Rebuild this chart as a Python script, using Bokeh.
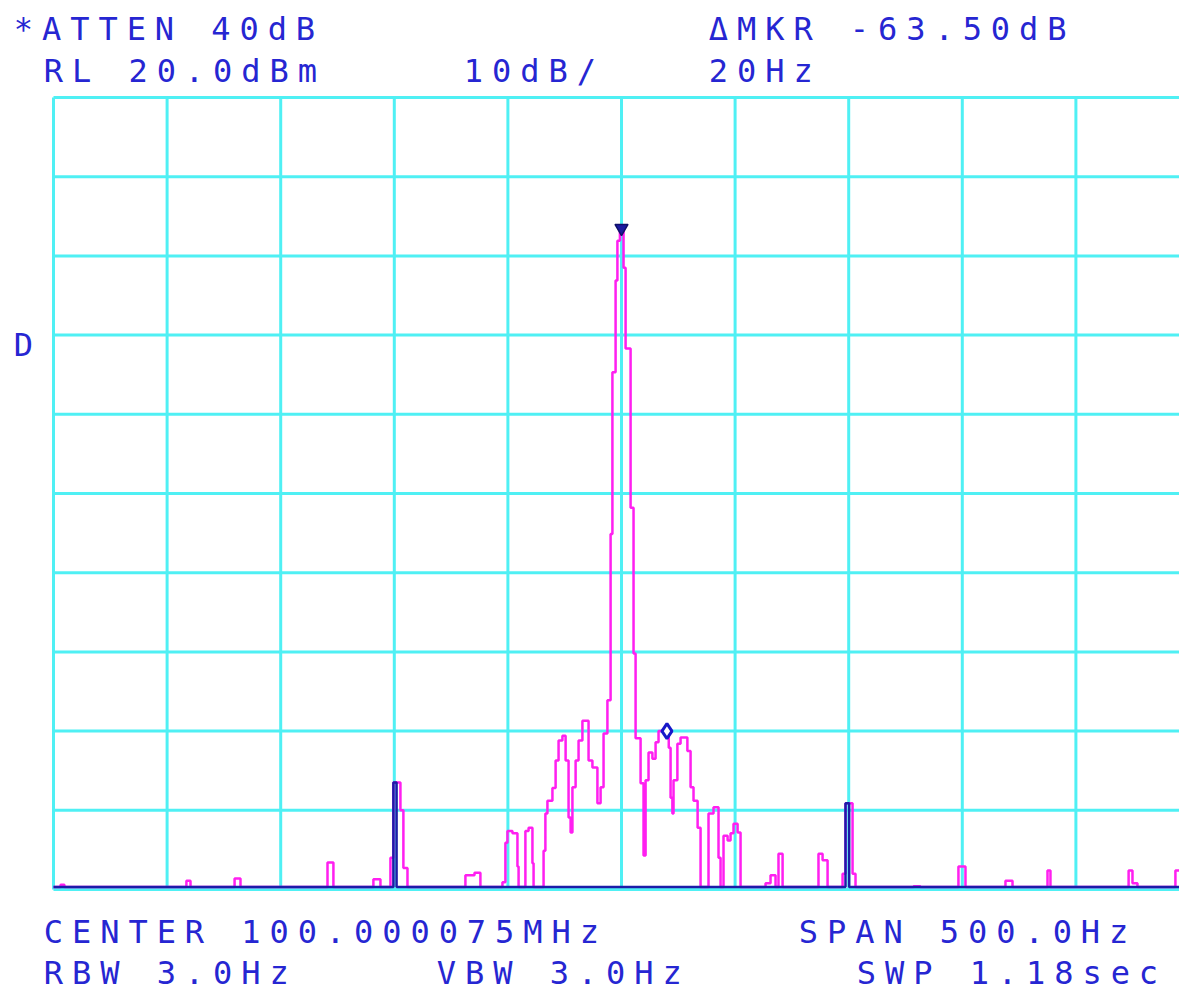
from bokeh.plotting import figure
from bokeh.models import Range1d
from bokeh.core.properties import value
from bokeh.embed import file_html
from bokeh.resources import INLINE

# ---- instrument settings -------------------------------------------------
span_hz = 500.0
ref_level_dbm = 20.0
db_per_div = 10.0
n_divs = 10

# ---- trace A (live sweep), frequency offset from centre in Hz, level in dBm
trace_a_hz = [-250, -246.9, -245.2, -191.5, -189.7, -170.3, -167.7, -129.4, -126.8,
              -109.2, -106.1, -101.7, -100.4, -97.3, -96.0, -94.2, -68.7, -64.7,
              -62.1, -52.4, -51.1, -50.2, -48.0, -45.8, -45.3, -42.3, -40.9, -39.2,
              -38.7, -34.3, -33.5, -32.6, -30.4, -29.0, -27.7, -26.0, -24.6, -23.3,
              -22.4, -21.6, -20.2, -18.9, -17.2, -14.5, -12.8, -10.6, -9.2, -7.9,
              -6.2, -4.8, -4.0, -2.6, -1.8, -0.7, 0.9, 1.8, 4.0, 5.3, 6.2, 8.4,
              9.7, 10.6, 11.9, 13.6, 15.0, 16.3, 20.8, 21.6, 22.4, 22.9, 24.6,
              26.0, 29.0, 30.4, 31.7, 33.5, 34.8, 38.3, 40.5, 42.7, 43.6, 44.9,
              46.7, 48.0, 49.3, 51.1, 52.4, 63.4, 65.6, 67.8, 69.1, 70.9, 86.7,
              88.5, 90.7, 97.3, 98.6, 101.7, 103.0, 128.5, 131.6, 148.3, 151.4,
              169.0, 172.1, 187.5, 188.8, 223.2, 224.9, 227.1, 243.8, 245.6]
trace_a_dbm = [-79.7, -79.4, -79.7, -78.9, -79.7, -78.6, -79.7, -76.6, -79.7,
               -78.7, -79.7, -76.0, -66.5, -70.0, -77.3, -79.7, -78.2, -77.9,
               -79.7, -79.1, -74.1, -72.6, -72.9, -77.1, -79.7, -72.6, -72.2, -76.7,
               -79.7, -75.1, -70.4, -68.8, -67.2, -63.7, -61.2, -60.6, -63.7, -70.9,
               -72.8, -67.1, -63.7, -61.2, -58.7, -63.7, -64.6, -69.1, -67.1, -60.3,
               -56.1, -35.1, -14.7, -3.1, 1.9, 3.5, -1.5, -11.7, -31.8, -50.2, -60.9, -66.6,
               -75.7, -66.2, -62.7, -63.5, -61.4, -60.0, -62.1, -68.4, -70.4, -66.2, -61.6,
               -60.8, -62.5, -67.1, -68.8, -72.2, -79.7, -70.4, -69.6, -76.0, -79.7, -73.2,
               -73.8, -72.9, -71.7, -72.8, -79.7, -79.2, -78.2, -79.7, -75.5, -79.7, -75.5,
               -76.3, -79.7, -78.0, -69.1, -78.0, -79.7, -79.6, -79.7, -77.1, -79.7,
               -78.9, -79.7, -77.6, -79.7, -77.6, -79.2, -79.7, -77.6, -77.6]

# ---- trace B (stored sweep)
trace_b_hz = [-250, -100.4, -99.0, 98.6, 100.2, 245.6]
trace_b_dbm = [-79.7, -66.5, -79.7, -69.1, -79.7, -79.7]

# ---- markers
peak_hz = 0.0
peak_dbm = 3.5
delta_hz = 20.0
delta_db = -63.50

# ---- annotation text: (text, left edge px, cap-bottom px)
screen_texts = [
    ("*ATTEN 40dB", 12, 41),
    ("RL 20.0dBm", 42, 83),
    ("10dB/", 462, 83),
    ("\u0394MKR -63.50dB", 707, 41),
    ("20Hz", 707, 83),
    ("D", 12, 357),
    ("CENTER 100.000075MHz", 42, 944),
    ("SPAN 500.0Hz", 797, 944),
    ("RBW 3.0Hz", 42, 985),
    ("VBW 3.0Hz", 435, 985),
    ("SWP 1.18sec", 855, 985),
]

# ---- screen geometry (the plot frame covers the whole display)
W, H = 1179, 991
GRAT_LEFT, GRAT_TOP = 53, 97
DIV_W, DIV_H = 113.6, 79.2
CELL = 28.2
TEXT_SHIFT = 13          # alphabetic baseline sits below the glyph bottom in the svg output
hz_px = DIV_W / (span_hz / n_divs)
db_px = DIV_H / db_per_div

x0 = -span_hz / 2 - GRAT_LEFT / hz_px
x1 = x0 + W / hz_px
y1 = ref_level_dbm + GRAT_TOP / db_px
y0 = y1 - H / db_px


def px_to_hz(px):
    return x0 + px / hz_px


def py_to_dbm(py):
    return y1 - py / db_px


p = figure(width=W, height=H, output_backend="svg", toolbar_location=None,
           x_range=Range1d(x0, x1), y_range=Range1d(y0, y1),
           x_axis_location=None, y_axis_location=None)
p.min_border = 0
p.outline_line_color = None
p.background_fill_color = "white"
p.border_fill_color = "white"
p.center = []

# graticule
CYAN = "#4ff0f4"
x_div = [-span_hz / 2 + i * span_hz / n_divs for i in range(n_divs + 1)]
y_div = [ref_level_dbm - i * db_per_div for i in range(n_divs + 1)]
y_bottom = y_div[-1]
x_right = min(x_div[-1], x1)
p.segment(x0=x_div, y0=[y_bottom] * len(x_div), x1=x_div, y1=[ref_level_dbm] * len(x_div),
          line_color=CYAN, line_width=3)
p.segment(x0=[x_div[0]] * len(y_div), y0=y_div, x1=[x_right] * len(y_div), y1=y_div,
          line_color=CYAN, line_width=3)

# traces
p.step(trace_a_hz, trace_a_dbm, mode="after", line_color="#ff1ff0", line_width=2.5)
p.step(trace_b_hz, trace_b_dbm, mode="after", line_color="#1c1ca8", line_width=2.5)

# markers
p.scatter([peak_hz], [peak_dbm], marker="inverted_triangle", size=13,
          fill_color="#1a1aa0", line_color="#10106a", line_width=1.5)
p.scatter([delta_hz], [peak_dbm + delta_db], marker="diamond", size=15,
          fill_color="white", line_color="#1818c8", line_width=3)

# character-cell text, one glyph per cell like the instrument display
cx, cy, ct = [], [], []
for text, left, base in screen_texts:
    for i, ch in enumerate(text):
        if ch == " ":
            continue
        cx.append(px_to_hz(left + 11 + CELL * i))
        cy.append(py_to_dbm(base - TEXT_SHIFT))
        ct.append(ch)
p.text(x=cx, y=cy, text=ct, text_font=value("DejaVu Sans Mono"),
       text_font_size="32px", text_color="#2626d2", text_align="center",
       text_baseline="alphabetic")

open("out.html", "w").write(file_html(p, INLINE))
